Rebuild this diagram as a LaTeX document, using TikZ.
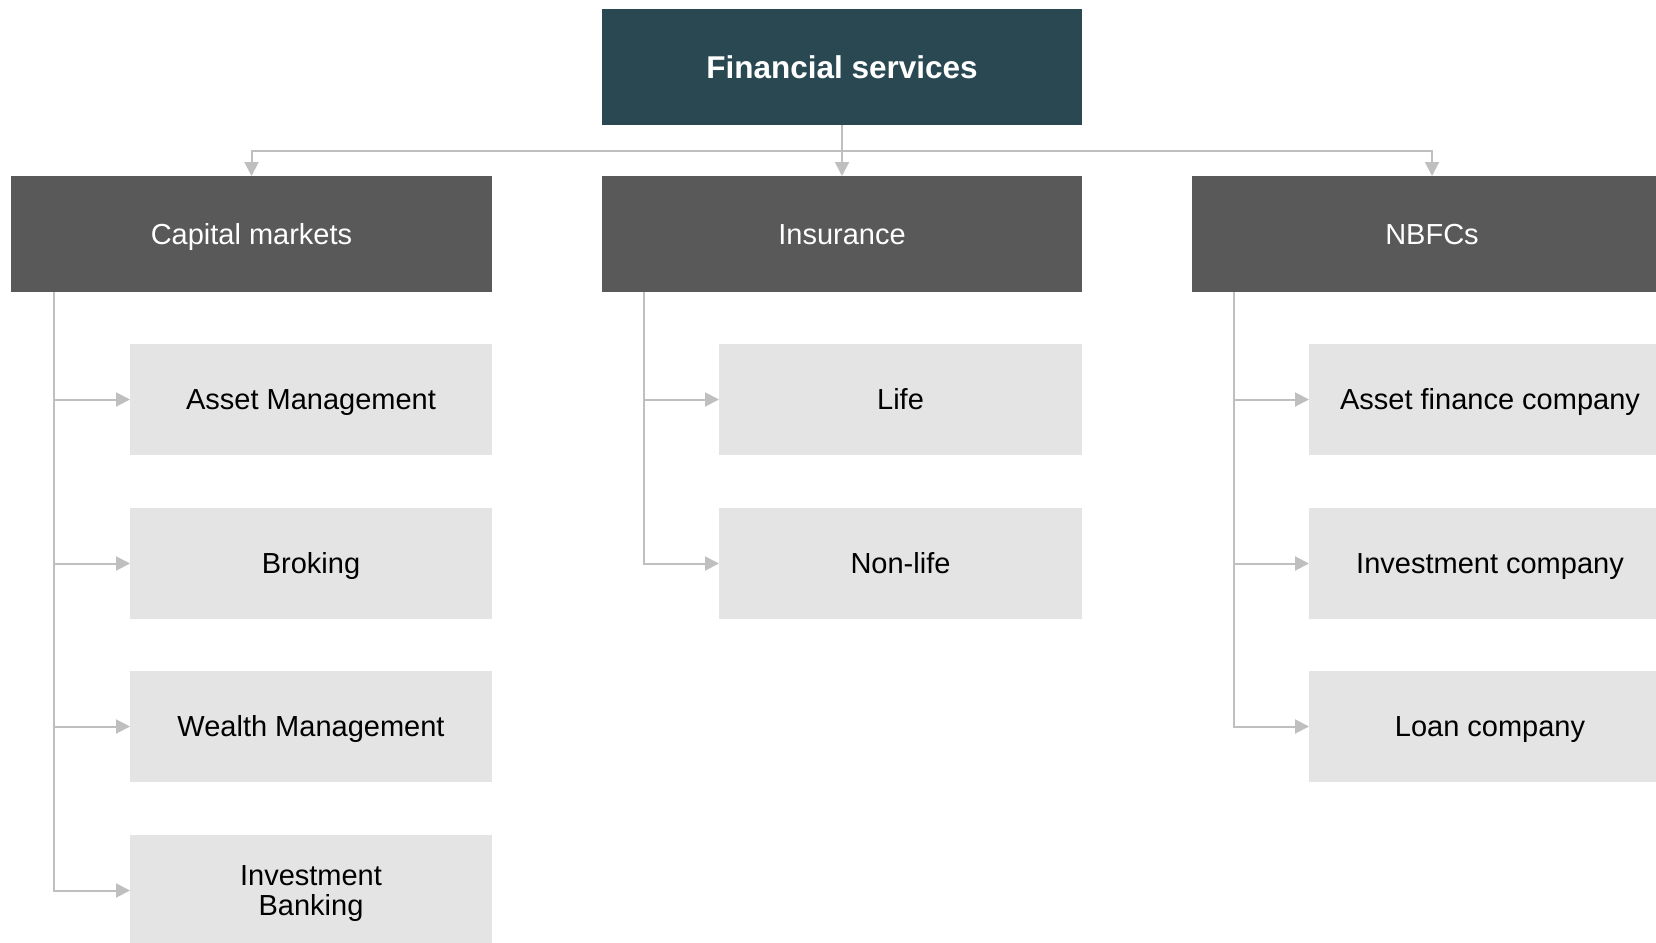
\documentclass[tikz,border=0pt]{standalone}
\usepackage{fontspec}
\setmainfont{Liberation Sans}
\usetikzlibrary{arrows.meta}
\definecolor{topc}{HTML}{2A4852}
\definecolor{midc}{HTML}{595959}
\definecolor{lowc}{HTML}{E4E4E4}
\definecolor{linec}{HTML}{BFBFBF}
\tikzset{
  box/.style={rectangle, inner sep=0pt, outer sep=0pt, align=center, font=\fontsize{29}{30}\selectfont, text height=20.8pt, text depth=0pt},
  topbox/.style={box, fill=topc, text=white, font=\fontsize{31.5}{34}\selectfont\bfseries, text height=22.5pt},
  midbox/.style={box, fill=midc, text=white},
  lowbox/.style={box, fill=lowc, text=black},
  conn/.style={draw=linec, line width=2pt, -{Triangle[length=14pt,width=14pt]}},
}
\begin{document}
\begin{tikzpicture}[x=1pt,y=-1pt]
\useasboundingbox (0,0) rectangle (1656,942);
% top
\node[topbox, minimum width=480pt, minimum height=116pt] (fs) at (842,67) {Financial services};
% level 2
\node[midbox, minimum width=481pt, minimum height=116pt] (cm) at (251.5,234) {Capital markets};
\node[midbox, minimum width=480pt, minimum height=116pt] (ins) at (842,234) {Insurance};
\node[midbox, minimum width=480pt, minimum height=116pt] (nb) at (1432,234) {NBFCs};
% level 3 capital
\node[lowbox, minimum width=362pt, minimum height=111pt] (am) at (311,399.5) {Asset Management};
\node[lowbox, minimum width=362pt, minimum height=111pt] (br) at (311,563.5) {Broking};
\node[lowbox, minimum width=362pt, minimum height=111pt] (wm) at (311,726.5) {Wealth Management};
\node[lowbox, minimum width=362pt, minimum height=111pt, text height=50.8pt] (ib) at (311,890.5) {Investment\\Banking};
% level 3 insurance
\node[lowbox, minimum width=363pt, minimum height=111pt] (life) at (900.5,399.5) {Life};
\node[lowbox, minimum width=363pt, minimum height=111pt] (nl) at (900.5,563.5) {Non-life};
% level 3 NBFC
\node[lowbox, minimum width=362pt, minimum height=111pt] (af) at (1490,399.5) {Asset finance company};
\node[lowbox, minimum width=362pt, minimum height=111pt] (ic) at (1490,563.5) {Investment company};
\node[lowbox, minimum width=362pt, minimum height=111pt] (lc) at (1490,726.5) {Loan company};
% top connectors
\draw[conn] (fs.south) |- (842,151) -| (cm.north);
\draw[conn] (fs.south) -- (ins.north);
\draw[conn] (fs.south) |- (842,151) -| (nb.north);
% capital
\draw[conn] (54,292) |- (am.west);
\draw[conn] (54,292) |- (br.west);
\draw[conn] (54,292) |- (wm.west);
\draw[conn] (54,292) |- (ib.west);
% insurance
\draw[conn] (644,292) |- (life.west);
\draw[conn] (644,292) |- (nl.west);
% nbfc
\draw[conn] (1234,292) |- (af.west);
\draw[conn] (1234,292) |- (ic.west);
\draw[conn] (1234,292) |- (lc.west);
\end{tikzpicture}
\end{document}
